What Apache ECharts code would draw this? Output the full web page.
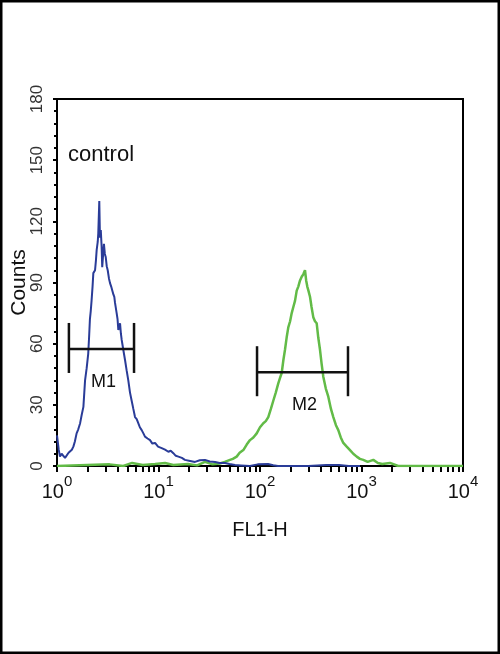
<!DOCTYPE html>
<html>
<head>
<meta charset="utf-8">
<script src="https://cdn.jsdelivr.net/npm/echarts@6/dist/echarts.min.js"></script>
<style>
  html, body { margin: 0; padding: 0; background: #fff; }
  #chart { width: 500px; height: 654px; }
</style>
</head>
<body>
<div id="chart"></div>
<script>
// ---- data (FL1-H value, Counts) ----
const controlX = [1.0, 1.04, 1.07, 1.11, 1.15, 1.2, 1.25, 1.3, 1.34, 1.4, 1.45, 1.5, 1.56, 1.62, 1.69, 1.75, 1.82, 1.89, 1.96, 2.03, 2.07, 2.11, 2.15, 2.19, 2.24, 2.28, 2.37, 2.42, 2.46, 2.52, 2.55, 2.61, 2.65, 2.7, 2.75, 2.79, 2.85, 2.9, 2.96, 3.02, 3.09, 3.16, 3.25, 3.33, 3.42, 3.51, 3.6, 3.67, 3.73, 3.79, 3.87, 3.95, 4.02, 4.18, 4.26, 4.34, 4.5, 4.68, 4.85, 5.04, 5.24, 5.44, 5.65, 5.87, 6.1, 6.32, 6.55, 6.83, 7.1, 7.36, 7.8, 8.25, 8.7, 9.25, 9.9, 10.75, 11.6, 12.5, 13.2, 14.0, 14.8, 15.7, 17.0, 18.2, 20.5, 22.9, 25.5, 28.7, 32, 36.1, 40, 45.2, 50, 56.7, 65, 79.6, 95, 120, 135, 150, 200, 300, 450, 600, 750, 967];
const controlY = [15, 8, 4.6, 6, 6.3, 4, 4.6, 6.5, 7, 8, 9.5, 12, 16, 18, 21, 25, 29, 42, 48, 55, 63, 72, 76, 81, 88, 94.6, 96, 101, 106, 110, 114, 130, 112, 115.7, 108, 97.5, 104, 109, 104, 102.5, 98, 96, 92, 89.7, 88, 86, 84, 83, 80, 80, 75, 72, 66.7, 70, 65, 61.8, 57, 52, 47, 42, 36, 32, 28, 24, 23, 21, 19, 17.6, 16, 14.4, 13.5, 12.7, 11, 11.3, 9.5, 8.8, 8, 7, 7.5, 6.3, 5, 4.6, 4, 3, 2.5, 2, 2.8, 3, 2.2, 2, 1.5, 1.5, 1, 0.5, 0.3, 0, 0.8, 1, 0.4, 0, 0, 0, 0.5, 0.5, 0, 0];

const sampleX = [1, 3.3, 4.5, 5.5, 7, 9.25, 11.6, 14, 19.5, 24, 28.7, 34, 40.2, 45, 50.6, 54, 58.9, 63, 68.5, 74, 79.7, 86, 92.8, 100, 107.8, 114, 120.7, 128, 135.2, 143, 151.4, 157, 163.6, 170, 176.3, 183, 190, 198, 205.3, 213, 221.2, 230, 238.4, 248, 257.5, 267, 277.5, 285, 292.4, 300, 310.9, 322, 335, 348, 361.9, 375, 390.1, 405, 420.4, 445, 470.9, 500, 527.7, 560, 590.8, 625, 661.9, 715, 770.2, 830, 897.2, 965, 1041.6, 1150, 1307, 1450, 1600, 1909, 2300, 10000];
const sampleY = [0, 0.8, 0, 1.5, 0.5, 1, 1.5, 0.5, 1, 0.3, 2, 0.8, 1.2, 2, 3, 3.5, 4.6, 6.5, 7.8, 10.5, 12.7, 14, 16, 19, 21, 22, 24, 28, 32, 36, 40.5, 43, 45.6, 52, 57, 63, 68, 71, 75, 78, 81, 86, 88, 91, 92.8, 94, 96, 91, 88, 86, 83, 78, 73, 71, 70, 63, 57, 50, 43.8, 38, 34, 28, 24, 20, 17.6, 14, 11.3, 9.5, 7.8, 6, 4.6, 3.5, 3, 2, 3, 1.5, 1, 1.5, 0, 0];

// marker gates: [from, to, level, name]
const markerGates = [
  [1.31, 5.74, 57.4, 'M1'],
  [93.5, 736, 46, 'M2']
];

// axis ticks and labels
const xMajorTicks = [1, 10, 100, 1000, 10000];
const xMinorTicks = [2, 3, 4, 5, 6, 7, 8, 9, 20, 30, 40, 50, 60, 70, 80, 90, 200, 300, 400, 500, 600, 700, 800, 900, 2000, 3000, 4000, 5000, 6000, 7000, 8000, 9000];
const yTicks = [0, 30, 60, 90, 120, 150, 180];

const zip = (xs, ys) => xs.map((x, i) => [x, ys[i]]);

const narrow = '"Liberation Sans Narrow", "Liberation Sans", Arial, sans-serif';
const regular = '"Liberation Sans", Arial, sans-serif';

const chart = echarts.init(document.getElementById('chart'), null, { renderer: 'canvas' });

chart.setOption({
  animation: false,
  backgroundColor: '#fff',
  title: {
    text: 'control',
    left: 68,
    top: 144,
    padding: 0,
    textStyle: { fontFamily: regular, fontSize: 22, fontWeight: 'normal', color: '#111' }
  },
  graphic: [{
    type: 'rect',
    shape: { x: 1, y: 1, width: 498, height: 652 },
    style: { fill: 'none', stroke: '#000', lineWidth: 3 },
    silent: true,
    z: 100
  }],
  grid: {
    left: 57, right: 37, top: 99, bottom: 188,
    outerBoundsMode: 'none',
    containLabel: false,
    show: true, borderColor: '#000', borderWidth: 2, backgroundColor: 'transparent'
  },
  xAxis: {
    type: 'log',
    logBase: 10,
    min: 1,
    max: 10000,
    name: 'FL1-H',
    nameLocation: 'middle',
    nameGap: 54,
    nameMoveOverlap: false,
    nameTextStyle: { fontFamily: narrow, fontSize: 20, color: '#111' },
    axisLine: { show: true, lineStyle: { color: '#000', width: 2 } },
    axisTick: {
      show: true, inside: false, length: 6,
      lineStyle: { color: '#000', width: 2 },
      customValues: xMajorTicks.concat(xMinorTicks)
    },
    splitLine: { show: false },
    minorTick: { show: false },
    axisLabel: {
      margin: 8,
      customValues: xMajorTicks,
      formatter: (v) => '{b|10}{e|' + Math.round(Math.log10(v)) + '}',
      rich: {
        b: { fontFamily: narrow, fontSize: 20, color: '#111', lineHeight: 28, verticalAlign: 'bottom' },
        e: { fontFamily: narrow, fontSize: 15, color: '#111', lineHeight: 15, verticalAlign: 'top' }
      }
    }
  },
  yAxis: {
    type: 'value',
    min: 0,
    max: 180,
    interval: 30,
    name: 'Counts',
    nameLocation: 'middle',
    nameGap: 27,
    nameMoveOverlap: false,
    nameTextStyle: { fontFamily: regular, fontSize: 21, color: '#111' },
    axisLine: { show: true, lineStyle: { color: '#000', width: 2 } },
    axisTick: { show: true, length: 4, lineStyle: { color: '#000', width: 2 }, customValues: yTicks },
    minorTick: { show: true, splitNumber: 5, length: 3, lineStyle: { color: '#000', width: 2 } },
    splitLine: { show: false },
    axisLabel: {
      rotate: 90,
      margin: 11,
      fontFamily: regular,
      fontSize: 17,
      color: '#333',
      customValues: yTicks
    }
  },
  series: [
    {
      name: 'sample',
      type: 'line',
      data: zip(sampleX, sampleY),
      showSymbol: false,
      symbol: 'none',
      lineStyle: { color: '#62bb47', width: 2.5 },
      z: 3
    },
    {
      name: 'control',
      type: 'line',
      data: zip(controlX, controlY),
      showSymbol: false,
      symbol: 'none',
      lineStyle: { color: '#2a3c98', width: 2 },
      z: 4
    },
    {
      name: 'gates',
      type: 'custom',
      data: markerGates,
      encode: { x: [0, 1], y: 2 },
      z: 5,
      renderItem: (params, api) => {
        const p1 = api.coord([api.value(0), api.value(2)]);
        const p2 = api.coord([api.value(1), api.value(2)]);
        const style = { stroke: '#111', lineWidth: 2.5 };
        return {
          type: 'group',
          children: [
            { type: 'line', shape: { x1: p1[0], y1: p1[1], x2: p2[0], y2: p2[1] }, style },
            { type: 'line', shape: { x1: p1[0], y1: p1[1] - 26, x2: p1[0], y2: p1[1] + 24 }, style },
            { type: 'line', shape: { x1: p2[0], y1: p2[1] - 26, x2: p2[0], y2: p2[1] + 24 }, style },
            {
              type: 'text',
              style: {
                text: markerGates[params.dataIndex][3],
                x: (p1[0] + p2[0]) / 2 + 2,
                y: p1[1] + 33,
                align: 'center',
                verticalAlign: 'middle',
                fontFamily: narrow,
                fontSize: 18,
                fill: '#111'
              }
            }
          ]
        };
      }
    }
  ]
});
</script>
</body>
</html>
